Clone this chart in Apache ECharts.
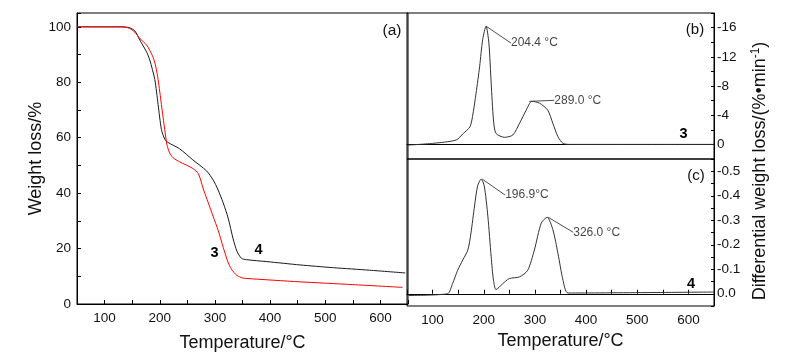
<!DOCTYPE html>
<html><head><meta charset="utf-8">
<script src="https://cdn.jsdelivr.net/npm/echarts@6/dist/echarts.min.js"></script>
<style>html,body{margin:0;padding:0;background:#fff}#c{width:792px;height:362px}</style>
</head><body><div id="c"></div>
<script>
// ---- TG curves (panel a) ----
const tgTemp3 = [50,130,145,155,164,176,182,188,193,197,203,209,213,218,224,236,260,270,279,288,297,306,315,323,330,340,350,358,454,550,640];
const tgWeight3 = [100,100,99.5,98,95.8,93.5,91.5,89,85.5,81,72,63,57.5,54.5,52.8,51.3,48.9,47,41.5,36.5,31.5,26.5,20.5,15.5,12.5,10.3,9.4,9.2,8.0,7.0,6.0];
const tgTemp4 = [50,130,145,155,164,176,182,191,197,203,209,215,236,260,285,297,305,315,324,333,340,348,357,394,454,515,580,645];
const tgWeight4 = [100,100,99.7,98.5,95.2,91,88,81,72,63,59.5,58.3,56,52,48,44.7,41.5,36.5,31,23.5,19,16.5,16,15.3,14.1,13.1,12.2,11.2];
// ---- DTG curves (panels b, c) ----
const dtgTemp3 = [50,100,146,160,173,178,185,192,198,204.5,210,214.5,219,224,241,257,270,283,294,309,325,335,345,355,368,650];
const dtgRate3 = [0.1,-0.14,-0.6,-1.5,-2.4,-3.8,-7.0,-10.7,-14.4,-16.2,-13.9,-8.4,-3.35,-1.5,-0.97,-1.3,-2.9,-4.7,-5.9,-5.65,-4.7,-2.9,-1.05,-0.14,0,0];
const dtgTemp4 = [50,129,139,149,159,169,175,182,188,195,201,208,214.5,219,224,237,250,270,286,299,312.5,324,335,345,355,365,650];
const dtgRate4 = [0.007,0,-0.041,-0.096,-0.138,-0.179,-0.248,-0.358,-0.44,-0.468,-0.44,-0.317,-0.151,-0.055,-0.017,-0.041,-0.062,-0.069,-0.096,-0.179,-0.289,-0.312,-0.262,-0.165,-0.055,-0.003,-0.007];
// ---- peak annotations ----
const peakTemp3 = [204.4, 289.0];
const peakRate3 = [-16.2, -5.9];
const peakText3 = ['204.4 °C', '289.0 °C'];
const peakTemp4 = [196.9, 326.0];
const peakRate4 = [-0.468, -0.312];
const peakText4 = ['196.9°C', '326.0 °C'];
// ---- tick labels ----
const tempTicks = [100,200,300,400,500,600];
const weightTicks = [0,20,40,60,80,100];
const rateTicks3 = [-16,-12,-8,-4,0];
const rateTicks4 = [-0.5,-0.4,-0.3,-0.2,-0.1,0.0];

const zip = (a, b) => a.map((v, i) => [v, b[i]]);
const FONT = 'Liberation Sans, Arial, sans-serif';
const TXT = '#111';

const chart = echarts.init(document.getElementById('c'), null, {renderer: 'canvas'});

function xAxis(grid, showLabels, nameGap) {
  return {
    type: 'value', gridIndex: grid, min: 50, max: 650, interval: 50,
    axisLine: {show: true, lineStyle: {color: '#000', width: 1}},
    axisTick: {show: showLabels, inside: true, length: 4, lineStyle: {color: '#000'}},
    axisLabel: {show: showLabels, margin: 7, fontSize: 13.5, fontFamily: FONT, color: TXT,
      formatter: v => tempTicks.includes(Math.round(v)) ? String(Math.round(v)) : ''},
    splitLine: {show: false},
    name: showLabels ? 'Temperature/°C' : '', nameLocation: 'middle', nameGap: nameGap,
    nameTextStyle: {fontSize: 18, fontFamily: FONT, color: TXT}
  };
}

const option = {
  animation: false,
  backgroundColor: '#fff',
  grid: [
    {left: 77, top: 13, width: 331, height: 291, show: true, borderColor: '#000', borderWidth: 1},
    {left: 407, top: 13, width: 307, height: 146, show: true, borderColor: '#000', borderWidth: 1},
    {left: 407, top: 159, width: 307, height: 147, show: true, borderColor: '#000', borderWidth: 1}
  ],
  xAxis: [xAxis(0, true, 30), xAxis(1, false, 0), xAxis(2, true, 26)],
  yAxis: [
    {type: 'value', gridIndex: 0, min: 0, max: 105, interval: 10,
     axisLine: {show: true, lineStyle: {color: '#000'}},
     axisTick: {show: true, inside: true, length: 4, lineStyle: {color: '#000'}},
     axisLabel: {margin: 6, fontSize: 13.5, fontFamily: FONT, color: TXT,
       formatter: v => weightTicks.includes(Math.round(v)) ? String(Math.round(v)) : ''},
     splitLine: {show: false},
     name: 'Weight loss/%', nameLocation: 'middle', nameGap: 26,
     nameTextStyle: {fontSize: 18, fontFamily: FONT, color: TXT}},
    {type: 'value', gridIndex: 1, position: 'right', inverse: true, min: -18, max: 2, interval: 2,
     axisLine: {show: true, lineStyle: {color: '#000'}},
     axisTick: {show: true, inside: true, length: 3, lineStyle: {color: '#000'}},
     axisLabel: {margin: 3, fontSize: 13.5, fontFamily: FONT, color: TXT,
       formatter: v => rateTicks3.includes(Math.round(v)) ? String(Math.round(v)) : ''},
     splitLine: {show: false}},
    {type: 'value', gridIndex: 2, position: 'right', inverse: true, min: -0.55, max: 0.05, interval: 0.05,
     axisLine: {show: true, lineStyle: {color: '#000'}},
     axisTick: {show: true, inside: true, length: 3, lineStyle: {color: '#000'}},
     axisLabel: {margin: 3, fontSize: 13.5, fontFamily: FONT, color: TXT,
       formatter: v => { const k = Math.round(v * 100);
         return rateTicks4.some(t => Math.round(t * 100) === k) ? (k / 100).toFixed(1) : ''; }},
     splitLine: {show: false}}
  ],
  series: [
    {type: 'line', xAxisIndex: 0, yAxisIndex: 0, data: zip(tgTemp4, tgWeight4), showSymbol: false, symbol: 'none',
     smooth: 0.25, lineStyle: {color: '#1a1a1a', width: 1}},
    {type: 'line', xAxisIndex: 0, yAxisIndex: 0, data: zip(tgTemp3, tgWeight3), showSymbol: false, symbol: 'none',
     smooth: 0.25, lineStyle: {color: '#ff0000', width: 1}},
    {type: 'line', xAxisIndex: 1, yAxisIndex: 1, data: zip(dtgTemp3, dtgRate3), showSymbol: false, symbol: 'none',
     smooth: 0.25, lineStyle: {color: '#333', width: 1}},
    {type: 'line', xAxisIndex: 2, yAxisIndex: 2, data: zip(dtgTemp4, dtgRate4), showSymbol: false, symbol: 'none',
     smooth: 0.25, lineStyle: {color: '#333', width: 1}},
    {type: 'scatter', xAxisIndex: 1, yAxisIndex: 1, symbolSize: 0, silent: true,
     data: peakTemp3.map((t, i) => ({value: [t, peakRate3[i]], name: peakText3[i]})),
     label: {show: true, position: 'right', distance: 0, formatter: p => p.name,
       fontSize: 12, fontFamily: FONT, color: TXT},
     labelLayout: p => [{dx: 25, dy: 17}, {dx: 25, dy: -1}][p.dataIndex],
     labelLine: {show: true, lineStyle: {color: '#222', width: 0.8}}},
    {type: 'scatter', xAxisIndex: 2, yAxisIndex: 2, symbolSize: 0, silent: true,
     data: peakTemp4.map((t, i) => ({value: [t, peakRate4[i]], name: peakText4[i]})),
     label: {show: true, position: 'right', distance: 0, formatter: p => p.name,
       fontSize: 12, fontFamily: FONT, color: TXT},
     labelLayout: p => [{dx: 23, dy: 16}, {dx: 25, dy: 15}][p.dataIndex],
     labelLine: {show: true, lineStyle: {color: '#222', width: 0.8}}}
  ],
  graphic: [
    {type: 'text', x: 392, y: 31, style: {text: '(a)', align: 'center', verticalAlign: 'middle', textAlign: 'center', textVerticalAlign: 'middle', fontSize: 15.5, fontFamily: FONT, fill: TXT}},
    {type: 'text', x: 695, y: 30, style: {text: '(b)', align: 'center', verticalAlign: 'middle', textAlign: 'center', textVerticalAlign: 'middle', fontSize: 15, fontFamily: FONT, fill: TXT}},
    {type: 'text', x: 696, y: 176, style: {text: '(c)', align: 'center', verticalAlign: 'middle', textAlign: 'center', textVerticalAlign: 'middle', fontSize: 15, fontFamily: FONT, fill: TXT}},
    {type: 'text', x: 214.5, y: 252.5, style: {text: '3', align: 'center', verticalAlign: 'middle', textAlign: 'center', textVerticalAlign: 'middle', fontSize: 14.5, fontWeight: 'bold', fontFamily: FONT, fill: '#000'}},
    {type: 'text', x: 258.5, y: 249.5, style: {text: '4', align: 'center', verticalAlign: 'middle', textAlign: 'center', textVerticalAlign: 'middle', fontSize: 14.5, fontWeight: 'bold', fontFamily: FONT, fill: '#000'}},
    {type: 'text', x: 683.5, y: 133.5, style: {text: '3', align: 'center', verticalAlign: 'middle', textAlign: 'center', textVerticalAlign: 'middle', fontSize: 14.5, fontWeight: 'bold', fontFamily: FONT, fill: '#000'}},
    {type: 'text', x: 691, y: 283.5, style: {text: '4', align: 'center', verticalAlign: 'middle', textAlign: 'center', textVerticalAlign: 'middle', fontSize: 14.5, fontWeight: 'bold', fontFamily: FONT, fill: '#000'}},
    {type: 'text', x: 760, y: 171, rotation: Math.PI / 2,
     style: {text: 'Differential weight loss/(%•min{sup|-1})', align: 'center', verticalAlign: 'middle',
       textAlign: 'center', textVerticalAlign: 'middle', fontSize: 18, fontFamily: FONT, fill: TXT,
       rich: {sup: {fontSize: 12, fontFamily: FONT, fill: TXT, verticalAlign: 'top', lineHeight: 20}}}}
  ]
};
chart.setOption(option);
</script>
</body></html>
